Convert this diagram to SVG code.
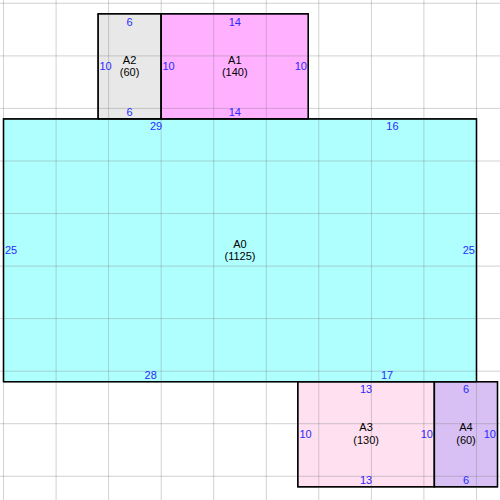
<svg xmlns="http://www.w3.org/2000/svg" width="500" height="500" viewBox="0 0 500 500">
<style>
.box{stroke:#000;stroke-width:1.3}
.grid line{stroke:#7f7f7f;stroke-opacity:0.35;stroke-width:1}
text{font-family:"Liberation Sans",Arial,sans-serif;font-size:11px;dominant-baseline:central}
.e{fill:#2a2aff}
.n{fill:#000;text-anchor:middle}
.m{text-anchor:middle}
.s{text-anchor:start}
.r{text-anchor:end}
</style>
<rect x="0" y="0" width="500" height="500" fill="#fff"/>
<g id="A2">
<rect class="box" x="98.1" y="13.8" width="63.1" height="105.1" fill="#e8e8e8"/>
</g>
<g id="A1">
<rect class="box" x="161.2" y="13.8" width="147.1" height="105.1" fill="#ffb0ff"/>
</g>
<g id="A0">
<rect class="box" x="3.5" y="118.9" width="473" height="262.8" fill="#b0ffff"/>
</g>
<g id="A3">
<rect class="box" x="297.8" y="381.7" width="136.6" height="105.1" fill="#ffe0f0"/>
</g>
<g id="A4">
<rect class="box" x="434.4" y="381.7" width="63.1" height="105.1" fill="#d8c0f4"/>
</g>
<g class="grid">
<line x1="3.5" y1="0" x2="3.5" y2="500"/>
<line x1="56.1" y1="0" x2="56.1" y2="500"/>
<line x1="108.6" y1="0" x2="108.6" y2="500"/>
<line x1="161.2" y1="0" x2="161.2" y2="500"/>
<line x1="213.7" y1="0" x2="213.7" y2="500"/>
<line x1="266.3" y1="0" x2="266.3" y2="500"/>
<line x1="318.8" y1="0" x2="318.8" y2="500"/>
<line x1="371.4" y1="0" x2="371.4" y2="500"/>
<line x1="423.9" y1="0" x2="423.9" y2="500"/>
<line x1="476.5" y1="0" x2="476.5" y2="500"/>
<line x1="0" y1="3.3" x2="500" y2="3.3"/>
<line x1="0" y1="55.9" x2="500" y2="55.9"/>
<line x1="0" y1="108.4" x2="500" y2="108.4"/>
<line x1="0" y1="161" x2="500" y2="161"/>
<line x1="0" y1="213.5" x2="500" y2="213.5"/>
<line x1="0" y1="266.1" x2="500" y2="266.1"/>
<line x1="0" y1="318.6" x2="500" y2="318.6"/>
<line x1="0" y1="371.2" x2="500" y2="371.2"/>
<line x1="0" y1="423.7" x2="500" y2="423.7"/>
<line x1="0" y1="476.3" x2="500" y2="476.3"/>
</g>
<g id="borders" fill="none">
<rect class="box" x="98.1" y="13.8" width="63.1" height="105.1"/>
<rect class="box" x="161.2" y="13.8" width="147.1" height="105.1"/>
<rect class="box" x="3.5" y="118.9" width="473" height="262.8"/>
<rect class="box" x="297.8" y="381.7" width="136.6" height="105.1"/>
<rect class="box" x="434.4" y="381.7" width="63.1" height="105.1"/>
</g>
<g id="labels">
<text class="e m" x="129.6" y="21.5">6</text>
<text class="e m" x="129.6" y="112">6</text>
<text class="e s" x="99.5" y="66.4">10</text>
<text class="n" x="129.6" y="60">A2</text>
<text class="n" x="129.6" y="72">(60)</text>

<text class="e m" x="234.8" y="21.5">14</text>
<text class="e m" x="234.8" y="112">14</text>
<text class="e s" x="162.5" y="66.4">10</text>
<text class="e r" x="307" y="66.4">10</text>
<text class="n" x="234.8" y="60">A1</text>
<text class="n" x="234.8" y="72">(140)</text>

<text class="e m" x="156" y="126">29</text>
<text class="e m" x="392.4" y="126">16</text>
<text class="e m" x="150.7" y="375">28</text>
<text class="e m" x="387.1" y="375">17</text>
<text class="e s" x="5" y="250.3">25</text>
<text class="e r" x="475" y="250.3">25</text>
<text class="n" x="240" y="243.5">A0</text>
<text class="n" x="240" y="255.5">(1125)</text>

<text class="e m" x="366.1" y="388.5">13</text>
<text class="e m" x="366.1" y="480">13</text>
<text class="e s" x="299.5" y="434">10</text>
<text class="e r" x="433" y="434">10</text>
<text class="n" x="366.1" y="427">A3</text>
<text class="n" x="366.1" y="439.5">(130)</text>

<text class="e m" x="466" y="388.5">6</text>
<text class="e m" x="466" y="480">6</text>
<text class="e r" x="496" y="434">10</text>
<text class="n" x="466" y="427">A4</text>
<text class="n" x="466" y="439.5">(60)</text>
</g>
</svg>
